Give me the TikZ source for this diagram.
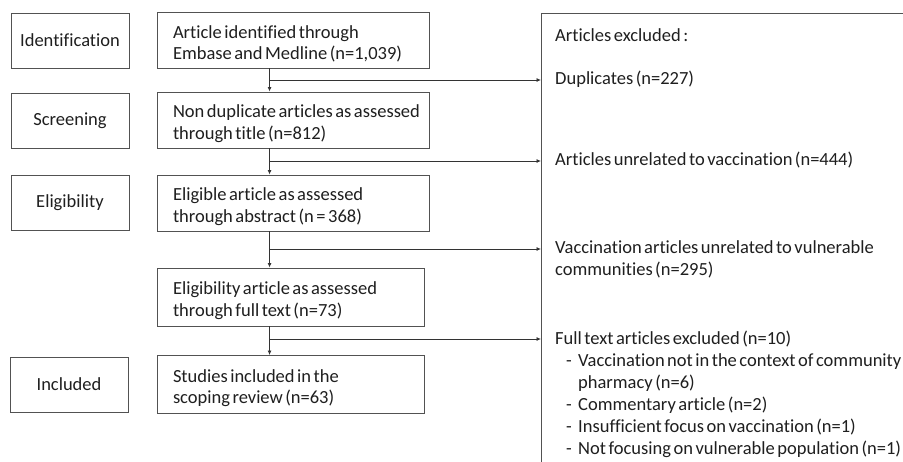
\documentclass[tikz,border=0pt]{standalone}
\usepackage{fontspec}
\setmainfont{Carlito}[Ligatures=NoCommon, WordSpace=0.6]
\usetikzlibrary{arrows.meta}
\newcommand{\toppad}{\rule{0pt}{20.5pt}}
\begin{document}
\begin{tikzpicture}[x=1pt,y=-1pt,
  txt/.style={font=\fontsize{18.5}{21.5}\selectfont, text=black!88},
  box/.style={draw=black!68, line width=0.9pt, inner sep=0pt},
  stage/.style={box, txt, minimum width=118pt, minimum height=55pt, align=center},
  flow/.style={box, txt, minimum width=272pt, minimum height=56pt, text width=240pt, align=flush left},
  flowb/.style={box, txt, minimum width=267pt, minimum height=58pt, text width=235pt, align=flush left},
  arr/.style={-{Latex[length=4.5pt,width=4pt]}, draw=black!80, line width=0.8pt},
  lbl/.style={txt, anchor=west, inner sep=0pt, text height=12pt, text depth=4pt, align=left}]
\useasboundingbox (0,0) rectangle (903,461);
\fill[white] (0,0) rectangle (903,461);

% stage boxes
\node[stage] (id) at (70,40.5) {Identification};
\node[stage] (sc) at (70,120.5) {Screening};
\node[stage] (el) at (70,203) {Eligibility};
\node[stage] (in) at (69,384.5) {Included};

% flow boxes
\node[flow] (a1) at (293,40) {\toppad\mbox{Article identified through}\\\mbox{Embase and Medline (n=1,039)}};
\node[flow] (a2) at (293,120) {\toppad\mbox{Non duplicate articles as assessed}\\\mbox{through title (n=812)}};
\node[flow] (a3) at (293,203) {\toppad\mbox{Eligible article as assessed}\\\mbox{through abstract (n = 368)}};
\node[flowb] (a4) at (290.5,297) {\toppad\mbox{Eligibility article as assessed}\\\mbox{through full text (n=73)}};
\node[flowb] (a5) at (290.5,384.5) {\toppad\mbox{Studies included in the}\\\mbox{scoping review (n=63)}};

% exclusion box (extends beyond the page)
\node[box, anchor=north west, minimum width=420pt, minimum height=470pt] (ex) at (541,13) {};

% vertical arrows
\draw[arr] ([xshift=113pt]a1.south west) -- ([xshift=113pt]a2.north west);
\draw[arr] ([xshift=113pt]a2.south west) -- ([xshift=113pt]a3.north west);
\draw[arr] ([xshift=113pt]a3.south west) -- ([xshift=113pt]a4.north west);
\draw[arr] ([xshift=113pt]a4.south west) -- ([xshift=113pt]a5.north west);

% branch arrows
\coordinate (b1) at (270,80);
\coordinate (b2) at (270,161);
\coordinate (b3) at (270,249);
\coordinate (b4) at (270,339);
\draw[arr] (b1) -- (b1 -| ex.west);
\draw[arr] (b2) -- (b2 -| ex.west);
\draw[arr] (b3) -- (b3 -| ex.west);
\draw[arr] (b4) -- (b4 -| ex.west);

% exclusion texts
\node[lbl] (t0) at (555,37) {Articles excluded :};
\node[lbl] (t1) at (555,80) {Duplicates (n=227)};
\node[lbl] (t2) at (555,161) {Articles unrelated to vaccination (n=444)};
\node[lbl] (t3) at (555,249) {Vaccination articles unrelated to vulnerable};
\node[lbl] (t3b) at (555,271) {communities (n=295)};
\node[lbl] (t4) at (555,340) {Full text articles excluded (n=10)};
\node[lbl] (d1) at (566,362) {-};
\node[lbl] (t5) at (578,362) {Vaccination not in the context of community};
\node[lbl] (t5b) at (578,384) {pharmacy (n=6)};
\node[lbl] (d2) at (566,406) {-};
\node[lbl] (t6) at (578,406) {Commentary article (n=2)};
\node[lbl] (d3) at (566,428) {-};
\node[lbl] (t7) at (578,428) {Insufficient focus on vaccination (n=1)};
\node[lbl] (d4) at (566,450) {-};
\node[lbl] (t8) at (578,450) {Not focusing on vulnerable population (n=1)};
\end{tikzpicture}
\end{document}
